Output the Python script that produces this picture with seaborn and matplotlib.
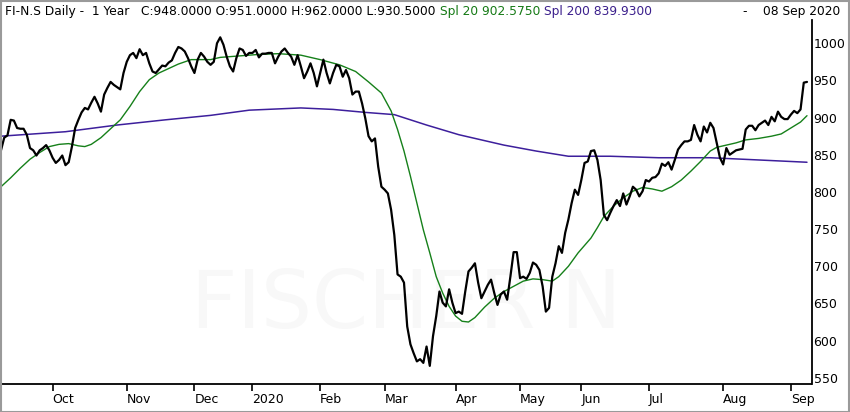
import numpy as np
import pandas as pd
import matplotlib
matplotlib.use("Agg")
import matplotlib.pyplot as plt
import seaborn as sns
from matplotlib.patches import Rectangle

# ---------------- data ----------------
holidays = ["2019-12-24", "2019-12-25", "2019-12-26", "2019-12-31",
            "2020-01-01", "2020-01-02", "2020-04-10", "2020-04-13",
            "2020-05-01", "2020-05-21", "2020-06-01"]
dates = pd.bdate_range("2019-09-09", "2020-09-08", freq="C", holidays=holidays)

price = [
    856, 873, 876, 897, 896, 886, 885, 885, 877, 859,
    856, 849, 856, 859, 863, 856, 846, 839, 843, 849,
    836, 840, 861, 886, 897, 907, 913, 911, 920, 928,
    919, 908, 931, 940, 948, 944, 941, 938, 960, 975,
    984, 987, 980, 992, 984, 987, 973, 962, 960, 965,
    970, 969, 974, 977, 987, 995, 993, 989, 980, 969,
    960, 978, 987, 982, 975, 971, 975, 1000, 1008, 998,
    982, 969, 962, 980, 993, 991, 983, 987, 987, 991,
    981, 986, 986, 987, 987, 973, 982, 989, 993, 987,
    982, 971, 984, 969, 953, 962, 973, 960, 942, 960,
    978, 960, 946, 960, 971, 969, 955, 964, 953, 931,
    935, 935, 919, 899, 875, 868, 872, 834, 807, 803,
    798, 776, 742, 689, 686, 678, 619, 595, 583, 572,
    575, 570, 592, 566, 606, 633, 666, 651, 646, 669,
    651, 637, 639, 636, 666, 693, 698, 704, 678, 657,
    666, 675, 682, 664, 648, 662, 666, 655, 686, 719,
    719, 684, 686, 683, 691, 705, 702, 695, 673, 639,
    644, 686, 704, 727, 718, 745, 763, 785, 803, 796,
    816, 839, 841, 855, 856, 843, 816, 769, 762, 772,
    781, 789, 781, 798, 783, 794, 807, 803, 794, 801,
    816, 814, 819, 820, 825, 838, 835, 840, 830, 843,
    857, 863, 868, 868, 870, 890, 877, 868, 888, 880,
    893, 886, 866, 846, 837, 859, 850, 853, 856, 857,
    858, 884, 889, 889, 883, 890, 893, 896, 890, 901,
    895, 908, 901, 898, 898, 904, 909, 906, 911, 947,
    948,
]

spl20_day = [0, 3, 6, 9, 12, 15, 18, 21, 24, 26, 28, 31, 34, 37, 40, 43, 46,
             49, 52, 55, 59, 62, 65, 68, 74, 80, 86, 93, 99, 105, 110, 114,
             118, 121, 123, 125, 127, 129, 131, 133, 135, 137, 139, 141, 143,
             145, 147, 150, 153, 156, 159, 162, 165, 168, 171, 173, 176, 179,
             183, 185, 187, 190, 193, 196, 199, 202, 205, 208, 211, 214, 217,
             220, 222, 225, 228, 231, 235, 239, 242, 245, 248, 250]
spl20 = [807, 819, 832, 844, 853, 861, 864, 865, 862, 861, 864, 873, 885,
         897, 915, 935, 951, 960, 966, 972, 978, 978, 978, 981, 983, 985,
         986, 984, 978, 971, 962, 948, 933, 909, 884, 855, 821, 785, 749,
         718, 686, 664, 646, 633, 626, 625, 631, 645, 657, 666, 673, 680,
         683, 682, 680, 686, 700, 718, 738, 752, 767, 781, 792, 801, 806,
         804, 801, 807, 816, 828, 841, 855, 860, 863, 866, 870, 872, 875,
         878, 886, 894, 902.575]

spl200_day = [0, 20, 36, 51, 65, 77, 93, 103, 113, 122, 132, 142, 156, 166,
              176, 189, 204, 220, 235, 250]
spl200 = [875, 881, 890, 897, 903, 910, 913, 911, 907, 904, 890, 877, 863,
          855, 848, 848, 846, 846, 843, 839.93]

n = min(len(price), len(dates))
df = pd.DataFrame({"day": np.arange(n), "price": price[:n]})
df20 = pd.DataFrame({"day": spl20_day, "value": spl20})
df200 = pd.DataFrame({"day": spl200_day, "value": spl200})

# ---------------- style ----------------
sns.set_style("white")
plt.rcParams["font.family"] = ["DejaVu Sans"]

W, H = 850, 412
fig = plt.figure(figsize=(W / 100, H / 100), dpi=100)
fig.patch.set_facecolor("white")
ax = fig.add_axes([0, 28 / H, 811.5 / W, 364 / H])
ax.set_facecolor("white")

# watermark
ax.text(0.50, 0.215, "FISCHER N", transform=ax.transAxes, fontsize=58,
        color="#f8f8f8", ha="center", va="center", zorder=0)

green = "#16801a"
purple = "#3d1f9c"
sns.lineplot(data=df200, x="day", y="value", color=purple, lw=1.1, ax=ax, zorder=2)
sns.lineplot(data=df20, x="day", y="value", color=green, lw=1.0, ax=ax, zorder=3)
sns.lineplot(data=df, x="day", y="price", color="black", lw=1.6, ax=ax, zorder=4)

ax.set_xlim(-0.31, 251.4)
ax.set_ylim(541.6, 1031.3)
ax.set_xlabel("")
ax.set_ylabel("")

# month ticks (first trading day of each month)
d = pd.Series(dates[:n])
months = d.dt.to_period("M")
first_idx = [i for i in range(1, n) if months.iloc[i] != months.iloc[i - 1]]
labels = [str(d.iloc[i].year) if d.iloc[i].month == 1 else d.iloc[i].strftime("%b")
          for i in first_idx]
ax.set_xticks(first_idx)
ax.set_xticklabels(labels, ha="left")
ax.tick_params(axis="x", direction="out", length=5, width=1.2, pad=1.5,
               labelsize=9, colors="black", bottom=True)

ax.yaxis.tick_right()
ax.set_yticks(np.arange(550, 1001, 50))
ax.set_yticklabels([str(v) for v in np.arange(550, 1001, 50)])
ax.tick_params(axis="y", length=0, pad=1.5, labelsize=9, colors="black", right=True)

for s in ["left", "top"]:
    ax.spines[s].set_visible(False)
for s in ["right", "bottom"]:
    ax.spines[s].set_visible(True)
    ax.spines[s].set_color("black")
    ax.spines[s].set_linewidth(1.3)
ax.grid(False)

# header
fig.canvas.draw()
r = fig.canvas.get_renderer()
ty = 1 - 12 / H
pieces = [("FI-N.S Daily -  1 Year   C:948.0000 O:951.0000 H:962.0000 L:930.5000", "black"),
          ("Spl 20 902.5750", "#157a15"),
          ("Spl 200 839.9300", "#3b1f8c")]
x = 5 / W
for txt, col in pieces:
    t = fig.text(x, ty, txt, color=col, fontsize=8.8, ha="left", va="center")
    bb = t.get_window_extent(renderer=r)
    x = (bb.x1 + 4) / W
fig.text(840 / W, ty, "-    08 Sep 2020", color="black", fontsize=8.8,
         ha="right", va="center")

# outer frame
fig.patches.append(Rectangle((0.5 / W, 0.5 / H), 1 - 1.5 / W, 1 - 1.5 / H,
                             transform=fig.transFigure, fill=False,
                             edgecolor="#9a9a9a", lw=1.5))

fig.savefig("out.png", dpi=100, facecolor="white")
